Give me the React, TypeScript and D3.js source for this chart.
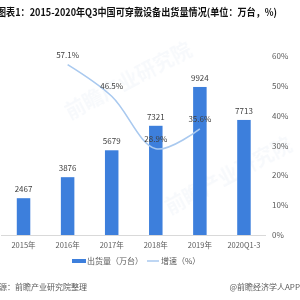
import React from 'react';
import * as d3 from 'd3';

const categories = ['2015年', '2016年', '2017年', '2018年', '2019年', '2020Q1-3'];
const shipments = [2467, 3876, 5679, 7321, 9924, 7713];
const growthCats = ['2016年', '2017年', '2018年', '2019年'];
const growth = [57.1, 46.5, 28.9, 35.6];
const rightTicks = [0, 10, 20, 30, 40, 50, 60];

const W = 300;
const H = 300;
const FONT = '"Noto Sans CJK SC", "Microsoft YaHei", sans-serif';
const BAR = '#3d7fdc';
const LINE = '#a9c9ef';

const App: React.FC = () => {
  const top = 56;
  const bottom = 235;

  const x = d3.scalePoint<string>().domain(categories).range([1.5, 266]).padding(0.5);
  const yLeft = d3.scaleLinear().domain([0, 12000]).range([bottom, top]);
  const yRight = d3.scaleLinear().domain([0, 60]).range([bottom, top]);
  const barW = 13.5;

  const pts: [number, number][] = growthCats.map((c, i) => [x(c)!, yRight(growth[i])]);
  const line = d3.line().curve(d3.curveCatmullRom.alpha(0.5))(pts) || '';

  return (
    <div style={{ position: 'absolute', left: 0, top: 0 }}>
      <svg width={W} height={H} style={{ display: 'block', background: '#fff', fontFamily: FONT }}>
        {/* faint watermarks */}
        <g opacity={0.035} fill="#1a4f9c" fontWeight="bold">
          <text x={70} y={120} fontSize={20} transform="rotate(-28 70 120)">前瞻产业研究院</text>
          <text x={170} y={215} fontSize={20} transform="rotate(-28 170 215)">前瞻产业研究院</text>
        </g>

        <text x={-3} y={16} fontSize={10} fontWeight="bold" fill="#111" textLength={280} lengthAdjust="spacingAndGlyphs">
          图表1：2015-2020年Q3中国可穿戴设备出货量情况(单位：万台，%)
        </text>

        {/* right axis labels */}
        {rightTicks.map(t => (
          <text key={t} x={272} y={yRight(t) + 3} fontSize={8} fill="#595959">{t}%</text>
        ))}

        {/* bars */}
        {categories.map((c, i) => (
          <g key={c}>
            <rect x={x(c)! - barW / 2} y={yLeft(shipments[i])} width={barW} height={bottom - yLeft(shipments[i])} fill={BAR} />
            <text x={x(c)!} y={yLeft(shipments[i]) - 6} fontSize={8} fill="#404040" textAnchor="middle">{shipments[i]}</text>
            <text x={x(c)!} y={bottom + 13} fontSize={7.5} fill="#595959" textAnchor="middle">{c}</text>
          </g>
        ))}

        <line x1={1} x2={266} y1={bottom + 0.5} y2={bottom + 0.5} stroke="#d9d9d9" />

        {/* growth line */}
        <path d={line} fill="none" stroke={LINE} strokeWidth={1.6} />
        {growthCats.map((c, i) => (
          <text key={c} x={x(c)!} y={yRight(growth[i]) - 7} fontSize={8} fill="#404040" textAnchor="middle">{growth[i]}%</text>
        ))}

        {/* legend */}
        <rect x={72} y={259} width={14} height={4} fill={BAR} />
        <text x={87} y={264} fontSize={8} fill="#595959">出货量（万台）</text>
        <line x1={147} x2={159} y1={261} y2={261} stroke={LINE} strokeWidth={1.5} />
        <text x={161} y={264} fontSize={8} fill="#595959">增速（%）</text>

        {/* source */}
        <text x={-9} y={290} fontSize={8} fill="#595959">来源：前瞻产业研究院整理</text>
        <text x={300} y={290} fontSize={8} fill="#595959" textAnchor="end">@前瞻经济学人APP</text>
      </svg>
    </div>
  );
};

export default App;
